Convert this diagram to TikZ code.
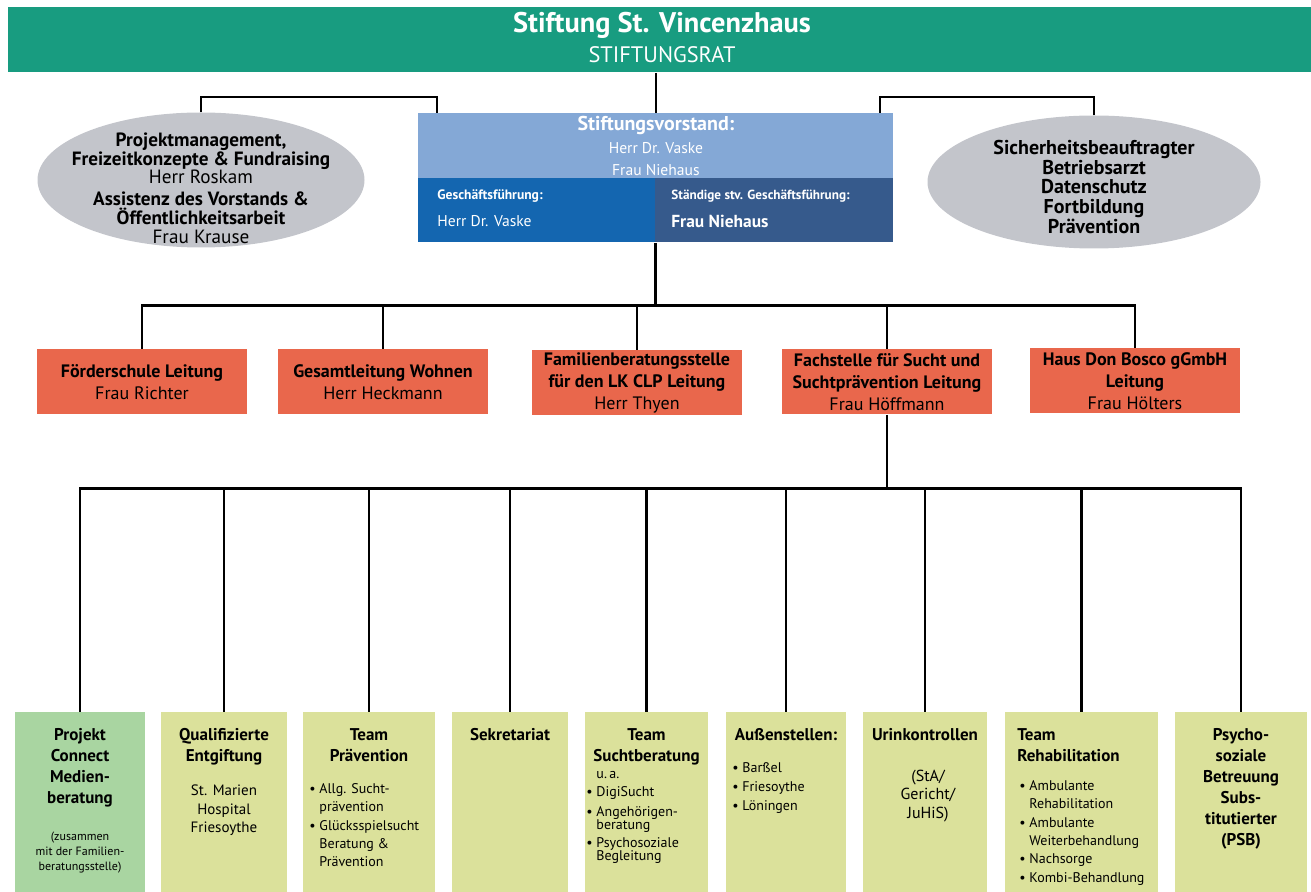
\documentclass[tikz,border=0pt]{standalone}
\usepackage{fontspec}
\setmainfont{PT Sans}
\usetikzlibrary{positioning,shapes.geometric}

\definecolor{ratgruen}{RGB}{24,156,128}
\definecolor{vorstandhell}{RGB}{132,168,214}
\definecolor{gfblau}{RGB}{20,102,176}
\definecolor{stvblau}{RGB}{54,90,140}
\definecolor{ellgrau}{RGB}{195,197,203}
\definecolor{leitrot}{RGB}{233,103,76}
\definecolor{teamoliv}{RGB}{219,225,155}
\definecolor{teamgruen}{RGB}{169,213,161}

\newcommand{\fs}[2]{\fontsize{#1}{#2}\selectfont}
\newcommand{\bul}{\textbullet\ }
\newcommand{\nobul}{\phantom{\textbullet\ }}

\tikzset{
  linie/.style={line width=1.4pt},
  blob/.style={ellipse, fill=ellgrau, inner sep=0pt},
  blobtext/.style={align=center, inner sep=0pt},
  leitung/.style={fill=leitrot, minimum width=105pt, minimum height=32.5pt,
    align=center, inner sep=1pt, font=\fs{9}{11}},
  team/.style={fill=teamoliv, anchor=north, minimum height=90pt, inner sep=0pt},
  kopf/.style={font=\bfseries\fs{8.5}{10.5}, align=center, inner sep=0pt},
  liste/.style={font=\fs{7}{9.2}, align=left, inner sep=0pt, anchor=north west},
}

\begin{document}
\begin{tikzpicture}[x=0.5pt,y=-0.5pt]
  \useasboundingbox (0,0) rectangle (1311,892);

  % Stiftungsrat
  \node[fill=ratgruen, anchor=north west, minimum width=651.5pt,
    minimum height=32.5pt, inner sep=0pt] (rat) at (8,7) {};
  \node[text=white, font=\bfseries\fs{14.2}{14}] (rat-titel) at (662,25) {Stiftung St. Vincenzhaus};
  \node[text=white, font=\fs{11.2}{11}] (rat-name) at (662,55) {STIFTUNGSRAT};

  % Vorstand
  \node[fill=vorstandhell, anchor=north west, minimum width=237.5pt,
    minimum height=32.5pt, inner sep=0pt, text=white, align=center]
    (vorstand) at (418,113)
    {{\bfseries\fs{10}{10.5}Stiftungsvorstand:}\\[-0.6pt]
     {\fs{7.8}{10.5}Herr Dr. Vaske}\\[-1.2pt]
     {\fs{7.8}{10.5}Frau Niehaus}};
  \node[fill=gfblau, anchor=north west, minimum width=118.5pt,
    minimum height=32pt, inner sep=0pt] (gf) at (418,178) {};
  \node[fill=stvblau, anchor=north west, minimum width=119pt,
    minimum height=32pt, inner sep=0pt] (stv) at (655,178) {};
  \node[text=white, anchor=west, inner sep=0pt, font=\bfseries\fs{6.8}{7}] (gf-titel) at (437,196) {Geschäftsführung:};
  \node[text=white, anchor=west, inner sep=0pt, font=\fs{7.8}{8}] (gf-name) at (437,221) {Herr Dr. Vaske};
  \node[text=white, anchor=west, inner sep=0pt, font=\bfseries\fs{6.6}{7}] (stv-titel) at (671,196) {Ständige stv. Geschäftsführung:};
  \node[text=white, anchor=west, inner sep=0pt, font=\bfseries\fs{8.7}{9}] (stv-name) at (671,221) {Frau Niehaus};

  % Stabsstellen
  \node[blob, minimum width=163.5pt, minimum height=67.5pt] (pm) at (201,180) {};
  \node[blobtext, font=\fs{9.6}{9.4}] (pm-text) at (201,188)
    {\textbf{Projektmanagement,}\\\textbf{Freizeitkonzepte \& Fundraising}\\Herr Roskam\\[1.5pt]
     \textbf{Assistenz des Vorstands \&}\\\textbf{Öffentlichkeitsarbeit}\\Frau Krause};
  \node[blob, minimum width=166.5pt, minimum height=66.5pt] (sb) at (1094,182) {};
  \node[blobtext, font=\bfseries\fs{10}{9.9}] (sb-text) at (1094,187)
    {Sicherheitsbeauftragter\\Betriebsarzt\\Datenschutz\\Fortbildung\\Prävention};

  \coordinate (lk) at (437,97);
  \coordinate (rk) at (880,97);
  \draw[linie] (pm.north) |- (lk) -- (lk |- vorstand.north);
  \draw[linie] (sb.north) |- (rk) -- (rk |- vorstand.north);
  \draw[linie] (vorstand.north |- rat.south) -- (vorstand.north);

  % Leitungen
  \node[leitung] (foerder) at (142,382) {\textbf{Förderschule Leitung}\\Frau Richter};
  \node[leitung] (wohnen) at (383,382) {\textbf{Gesamtleitung Wohnen}\\Herr Heckmann};
  \node[leitung] (familie) at (637,383) {\textbf{Familienberatungsstelle}\\\textbf{für den LK CLP Leitung}\\Herr Thyen};
  \node[leitung] (sucht) at (887,382) {\textbf{Fachstelle für Sucht und}\\\textbf{Suchtprävention Leitung}\\Frau Höffmann};
  \node[leitung] (bosco) at (1135,381) {\textbf{Haus Don Bosco gGmbH}\\\textbf{Leitung}\\Frau Hölters};

  \path (gf.south east) ++(0,63) coordinate (split);
  \draw[linie] (gf.south east) -- (split);
  \foreach \b in {foerder,wohnen,familie,sucht,bosco}
    \draw[linie] (split) -| (\b.north);

  % Teams der Fachstelle
  \node[team, fill=teamgruen, minimum width=65pt] (connect) at (80,712) {};
  \node[team, minimum width=63pt] (entgift) at (224,712) {};
  \node[team, minimum width=66pt] (praev) at (369,712) {};
  \node[team, minimum width=58pt] (sekr) at (510,712) {};
  \node[team, minimum width=61.5pt] (beratung) at (646.5,712) {};
  \node[team, minimum width=60pt] (aussen) at (786,712) {};
  \node[team, minimum width=62pt] (urin) at (925,712) {};
  \node[team, minimum width=76.5pt] (reha) at (1081.5,712) {};
  \node[team, minimum width=66pt] (psb) at (1241,712) {};

  \path (sucht.south) ++(0,74) coordinate (hub);
  \draw[linie] (sucht.south) -- (hub);
  \foreach \b in {connect,entgift,praev,sekr,beratung,aussen,urin,reha,psb}
    \draw[linie] (hub) -| (\b.north);

  \node[kopf, below=8pt of connect.north] (connect-kopf) {Projekt\\Connect\\Medien-\\beratung};
  \node[font=\fs{6}{7.5}, align=center, inner sep=0pt, below=12pt of connect-kopf] (connect-notiz)
    {(zusammen\\mit der Familien-\\beratungsstelle)};

  \node[kopf, below=8pt of entgift.north] (entgift-kopf) {Qualifizierte\\Entgiftung};
  \node[font=\fs{7.5}{9.25}, align=center, inner sep=0pt, below=9.5pt of entgift-kopf] (entgift-ort)
    {St. Marien\\Hospital\\Friesoythe};

  \node[kopf, below=8pt of praev.north] (praev-kopf) {Team\\Prävention};
  \node[liste] (praev-liste) at (309,783)
    {\bul Allg. Sucht-\\\nobul prävention\\\bul Glücksspielsucht\\\nobul Beratung \&\\\nobul Prävention};

  \node[kopf, below=8pt of sekr.north] (sekr-kopf) {Sekretariat};

  \node[kopf, below=8pt of beratung.north] (beratung-kopf) {Team\\Suchtberatung};
  \node[liste, font=\fs{7}{6.5}] (beratung-liste) at (586,771)
    {\nobul u.\,a.\\[2.5pt]\bul DigiSucht\\[3.5pt]\bul Angehörigen-\\\nobul beratung\\[2.5pt]
     \bul Psychosoziale\\\nobul Begleitung};

  \node[kopf, below=8pt of aussen.north] (aussen-kopf) {Außenstellen:};
  \node[liste, font=\fs{7}{9.5}] (aussen-liste) at (732,762)
    {\bul Barßel\\\bul Friesoythe\\\bul Löningen};

  \node[kopf, below=8pt of urin.north] (urin-kopf) {Urinkontrollen};
  \node[font=\fs{8}{9.25}, align=center, inner sep=0pt] (urin-text) at (928,796)
    {(StA/\\Gericht/\\JuHiS)};

  \node[kopf, align=left, anchor=north west] (reha-kopf) at (1017,728) {Team\\Rehabilitation};
  \node[liste] (reha-liste) at (1019,780)
    {\bul Ambulante\\\nobul Rehabilitation\\\bul Ambulante\\\nobul Weiterbehandlung\\\bul Nachsorge\\\bul Kombi-Behandlung};

  \node[kopf, below=8pt of psb.north] (psb-kopf)
    {Psycho-\\soziale\\Betreuung\\Subs-\\titutierter\\(PSB)};
\end{tikzpicture}
\end{document}
